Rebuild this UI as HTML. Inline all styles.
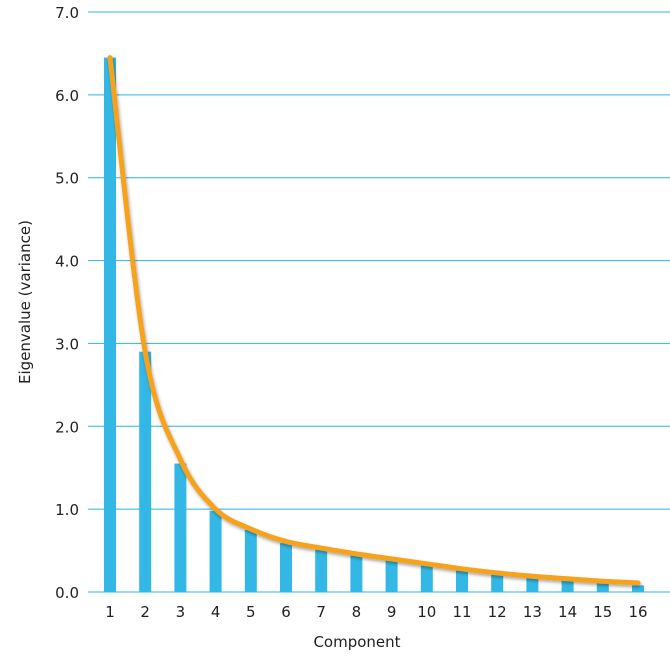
<!DOCTYPE html>
<html><head><meta charset="utf-8"><style>
body{margin:0;background:#fff;}
svg text{font-family:"DejaVu Sans","Liberation Sans",sans-serif;fill:#222;}
</style></head><body>
<svg id="chart" width="670" height="652" xmlns="http://www.w3.org/2000/svg">
<defs><filter id="sh" x="-5%" y="-5%" width="110%" height="110%"><feGaussianBlur in="SourceAlpha" stdDeviation="1.5"/><feOffset dx="1" dy="2"/><feComponentTransfer><feFuncA type="linear" slope="0.35"/></feComponentTransfer><feMerge><feMergeNode/><feMergeNode in="SourceGraphic"/></feMerge></filter></defs>
<g id="grid"></g><g id="bars"></g><g id="line"></g><g id="labels"></g>
<text transform="translate(30,302) rotate(-90)" text-anchor="middle" font-size="15">Eigenvalue (variance)</text>
<text x="357" y="647" text-anchor="middle" font-size="15">Component</text>
</svg>
<script>
const categories=[1,2,3,4,5,6,7,8,9,10,11,12,13,14,15,16];
const eigenvalues=[6.45,2.9,1.55,0.98,0.75,0.59,0.51,0.44,0.38,0.32,0.27,0.22,0.17,0.14,0.11,0.08];
const curveValues=[6.45,2.9,1.6,1.0,0.76,0.61,0.53,0.46,0.40,0.34,0.28,0.23,0.19,0.16,0.13,0.11];
const yTicks=[0,1,2,3,4,5,6,7];
const NS="http://www.w3.org/2000/svg";
const y=v=>592-v*(580/7);
const x=i=>110+i*(528/15);
function mk(t,p,a){const e=document.createElementNS(NS,t);for(const k in a)e.setAttribute(k,a[k]);p.appendChild(e);return e;}
const g=document.getElementById('grid'),b=document.getElementById('bars'),l=document.getElementById('labels'),ln=document.getElementById('line');
yTicks.forEach(t=>{
 const gl=mk('line',g,{x1:88,x2:670,y1:y(t),y2:y(t),stroke:'#29b5e0','stroke-width':1});
 
 
 const tx=mk('text',l,{x:79,y:y(t)+6,'text-anchor':'end','font-size':15});
 tx.textContent=t.toFixed(1);
 
 
});
categories.forEach((c,i)=>{
 const r=mk('rect',b,{x:x(i)-6,y:y(eigenvalues[i]),width:12,height:592-y(eigenvalues[i]),fill:'#33b8e6'});
 
 
 const tx=mk('text',l,{x:x(i),y:617,'text-anchor':'middle','font-size':15});
 tx.textContent=c;
 
 
});
const pts=curveValues.map((v,i)=>[x(i),y(v)]);
let d='M'+pts[0][0]+','+pts[0][1];
for(let i=0;i<pts.length-1;i++){
 const p0=pts[Math.max(0,i-1)],p1=pts[i],p2=pts[i+1],p3=pts[Math.min(pts.length-1,i+2)];
 let c1y=p1[1]+(p2[1]-p0[1])/6,c2y=p2[1]-(p3[1]-p1[1])/6;
 c1y=Math.min(Math.max(c1y,Math.min(p1[1],p2[1])),Math.max(p1[1],p2[1]));
 c2y=Math.min(Math.max(c2y,Math.min(p1[1],p2[1])),Math.max(p1[1],p2[1]));
 d+=` C${p1[0]+(p2[0]-p0[0])/6},${c1y} ${p2[0]-(p3[0]-p1[0])/6},${c2y} ${p2[0]},${p2[1]}`;
}
const path=mk('path',ln,{d:d,fill:'none',stroke:'#f7a21b','stroke-width':5,'stroke-linecap':'round',filter:'url(#sh)'});


</script>
</body></html>
